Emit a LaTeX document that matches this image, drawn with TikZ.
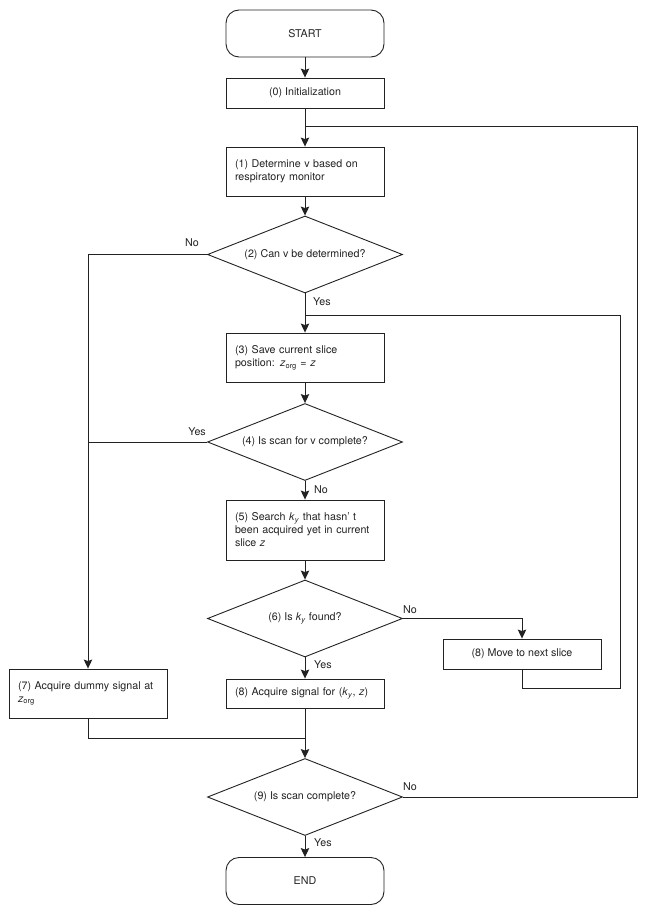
\documentclass[tikz,border=0pt]{standalone}
\usepackage{fontspec}
\setmainfont{TeX Gyre Heros}
\usetikzlibrary{
  positioning,
  arrows.meta,
  shapes.geometric
}
\definecolor{ink}{HTML}{222222}

\begin{document}
\begin{tikzpicture}[
  x=1pt, y=-1pt,
  every node/.style={font=\fontsize{10.7}{13}\selectfont, text=ink},
  term/.style={draw=ink, line width=0.9pt, rounded corners=13pt, minimum width=158pt,
               minimum height=47pt, align=center},
  cbox/.style={draw=ink, line width=0.9pt, minimum width=158pt, minimum height=30pt, align=center},
  lbox/.style={draw=ink, line width=0.9pt, text width=140pt, inner xsep=9pt,
               minimum height=49pt, align=left},
  decide/.style={draw=ink, line width=0.9pt, diamond, aspect=2.5, inner sep=0pt,
                 minimum width=195pt, minimum height=77pt, align=center},
  lbl/.style={inner sep=0pt},
  wire/.style={draw=ink, line width=0.9pt},
  arr/.style={wire, -{Stealth[length=9pt, width=8.5pt, inset=1.5pt]}},
]
  \useasboundingbox (0,0) rectangle (649,915);

  % main column
  \node[term] (start) at (305,33.5) {START};
  \node[cbox] (init) at (305,93) {(0) Initialization};
  \node[lbox] (p1) at (305,171.5) {(1) Determine v based on\\respiratory monitor};
  \node[decide] (q2) at (305,254.5) {(2) Can v be determined?};
  \node[lbox] (p3) at (305,357.5) {(3) Save current slice\\position: \textit{z}\textsubscript{org} = \textit{z}};
  \node[decide] (q4) at (305,442) {(4) Is scan for v complete?};
  \node[lbox, minimum height=60pt] (p5) at (305,530)
    {(5) Search \textit{k}\textsubscript{\textit{y}} that hasn’\ t\\been acquired yet in current\\slice \textit{z}};
  \node[decide] (q6) at (305,618.5) {(6) Is \textit{k}\textsubscript{\textit{y}} found?};
  \node[lbox, minimum height=29pt] (acq) at (305,693.5)
    {(8) Acquire signal for (\textit{k}\textsubscript{\textit{y}}, \textit{z})};
  \node[decide] (q9) at (305,797) {(9) Is scan complete?};
  \node[term] (stop) at (305,881) {END};

  % side boxes
  \node[cbox] (move) at (522,654) {(8) Move to next slice};
  \node[lbox] (p7) at (88,693.5) {(7) Acquire dummy signal at\\\textit{z}\textsubscript{org}};

  % branch labels
  \node[lbl, anchor=east] (no2) at (199,243) {No};
  \node[lbl, anchor=west] (yes2) at (313,302) {Yes};
  \node[lbl, anchor=east] (yes4) at (206,432) {Yes};
  \node[lbl, anchor=west] (no4) at (314,490) {No};
  \node[lbl, anchor=west] (no6) at (403,610) {No};
  \node[lbl, anchor=west] (yes6) at (314,665) {Yes};
  \node[lbl, anchor=west] (no9) at (403,787) {No};
  \node[lbl, anchor=west] (yes9) at (314,843) {Yes};

  % joints
  \coordinate (j1) at (305,126);
  \coordinate (r1) at (637,126);
  \coordinate (j2) at (305,315);
  \coordinate (r2) at (620,688);
  \coordinate (j3) at (305,738);

  \draw[arr] (start) -- (init);
  \draw[arr] (init) -- (p1);
  \draw[arr] (p1) -- (q2);
  \draw[arr] (q2.west) -| (p7.north);
  \draw[arr] (q2) -- (p3);
  \draw[arr] (p3) -- (q4);
  \draw[wire] (q4.west) -- (q4.west -| p7.north);
  \draw[arr] (q4) -- (p5);
  \draw[arr] (p5) -- (q6);
  \draw[arr] (q6.east) -| (move.north);
  \draw[arr] (q6) -- (acq);
  \draw[wire] (move.south) |- (r2) |- (j2);
  \draw[wire] (p7.south) |- (j3);
  \draw[arr] (acq) -- (q9);
  \draw[arr] (q9) -- (stop);
  \draw[wire] (q9.east) -| (r1) -- (j1);
\end{tikzpicture}
\end{document}
